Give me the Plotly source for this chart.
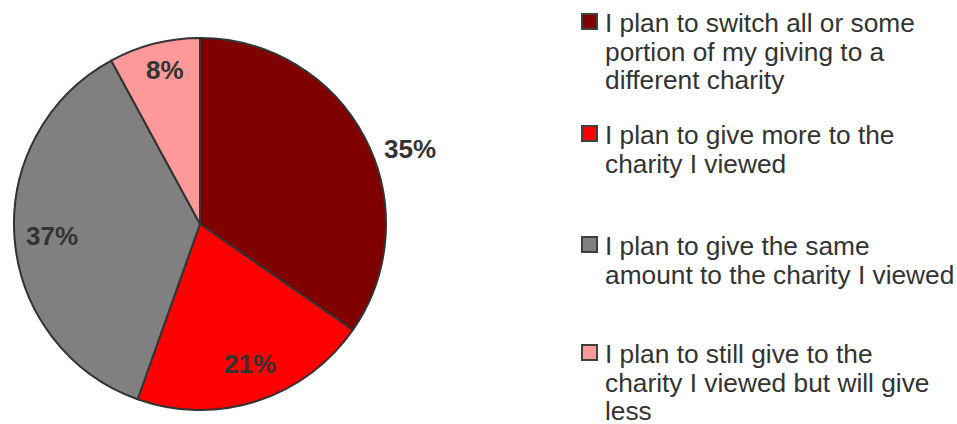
import math
import plotly.graph_objects as go

# Survey responses: planned giving after viewing a charity
categories = [
    "I plan to switch all or some<br>portion of my giving to a<br>different charity",
    "I plan to give more to the<br>charity I viewed",
    "I plan to give the same<br>amount to the charity I viewed",
    "I plan to still give to the<br>charity I viewed but will give<br>less",
]
shares = [35, 21, 37, 8]
colors = ["#800000", "#FF0000", "#808080", "#FF9999"]

# Label placement per slice: radius as a fraction of the pie radius,
# and a small angular nudge (degrees, clockwise)
label_radius = [1.20, 0.80, 0.80, 0.85]
label_angle_nudge = [8, -2, 0, 1.5]

W, H = 957, 424
TEXT = "#333333"
FONT = "Liberation Sans, Arial, sans-serif"

# Pie occupies a square region (pixels from the top-left corner)
px0, px1, py0, py1 = 14, 386, 38, 410
cx, cy = (px0 + px1) / 2, (py0 + py1) / 2
R = (px1 - px0) / 2

fig = go.Figure()
fig.add_trace(go.Pie(
    labels=[c.replace("<br>", " ") for c in categories],
    values=shares,
    sort=False,
    direction="clockwise",
    rotation=0,
    marker=dict(colors=colors, line=dict(color="#333333", width=2)),
    textinfo="none",
    domain=dict(x=[px0 / W, px1 / W], y=[1 - py1 / H, 1 - py0 / H]),
    showlegend=False,
    hoverinfo="label+percent",
))

# Percentage labels positioned from each slice's mid-angle
total = sum(shares)
cum = 0
for v, rf, nudge in zip(shares, label_radius, label_angle_nudge):
    mid = (cum + v / 2) / total * 360 + nudge
    cum += v
    a = math.radians(mid)
    x = cx + R * rf * math.sin(a)
    y = cy - R * rf * math.cos(a)
    fig.add_annotation(
        xref="paper", yref="paper", x=x / W, y=1 - y / H,
        xanchor="center", yanchor="middle", showarrow=False,
        text=f"{v}%",
        font=dict(family=FONT, size=26, color=TEXT, weight="bold"),
    )

# Legend: colour square plus wrapped text lines per category
entry_tops = [23, 135, 246, 354]
line_gap = 28.5
for cat, col, top in zip(categories, colors, entry_tops):
    fig.add_shape(
        type="rect", xref="paper", yref="paper",
        x0=582 / W, x1=597 / W, y0=1 - (top - 9) / H, y1=1 - (top + 6) / H,
        fillcolor=col, line=dict(color="#404040", width=2),
    )
    for i, line in enumerate(cat.split("<br>")):
        fig.add_annotation(
            xref="paper", yref="paper", x=603 / W, y=1 - (top + i * line_gap) / H,
            xanchor="left", yanchor="middle", showarrow=False, text=line,
            font=dict(family=FONT, size=26.3, color=TEXT),
        )

fig.update_layout(
    width=W, height=H,
    margin=dict(l=0, r=0, t=0, b=0),
    paper_bgcolor="white", plot_bgcolor="white",
)

fig.write_html("out.html")
